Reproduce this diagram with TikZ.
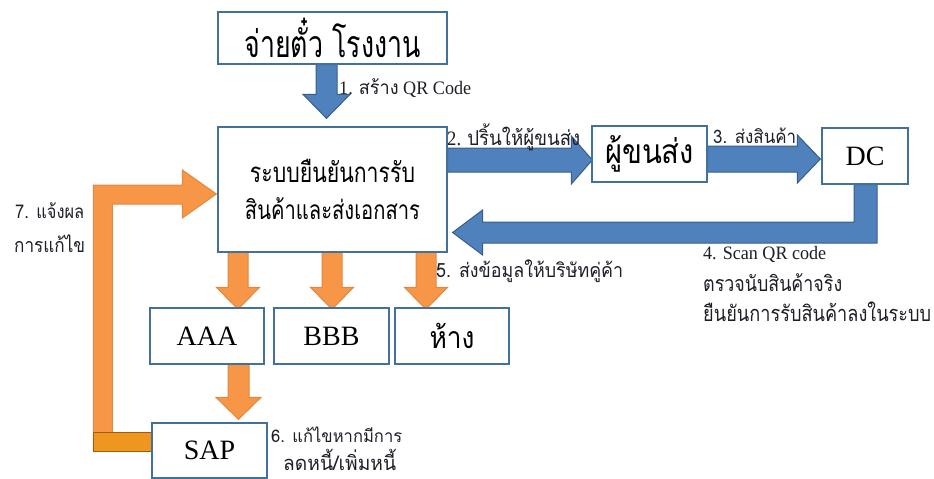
\documentclass[tikz,border=0pt]{standalone}
\usepackage{fontspec}
\usepackage{graphicx}
\setmainfont{Liberation Serif}
\newfontfamily\thai[Script=Thai]{Loma}
\usetikzlibrary{calc}
\definecolor{bluefill}{HTML}{4F81BD}
\definecolor{blueedge}{HTML}{385D8A}
\definecolor{boxedge}{HTML}{41719C}
\definecolor{orfill}{HTML}{F79646}
\definecolor{oredge}{HTML}{E0883F}
\definecolor{blkfill}{HTML}{EE961E}
\definecolor{blkedge}{HTML}{A65A10}
\definecolor{lbltext}{HTML}{1E1E28}
\pgfdeclarelayer{bg}
\pgfsetlayers{bg,main}
% fit text to a width, then stretch it vertically
\newcommand\fitw[3]{\scalebox{1}[#2]{\resizebox{#1}{!}{#3}}}
% down arrow: style, start, tip, head length, shaft half width, head half width
\newcommand\DArrow[6]{\draw[#1] ($(#2)+(-#5,0)$) -- ($(#2)+(#5,0)$) -- ($(#3)+(#5,-#4)$) -- ($(#3)+(#6,-#4)$) -- (#3) -- ($(#3)+(-#6,-#4)$) -- ($(#3)+(-#5,-#4)$) -- cycle;}
% right arrow
\newcommand\RArrow[6]{\draw[#1] ($(#2)+(0,-#5)$) -- ($(#3)+(-#4,-#5)$) -- ($(#3)+(-#4,-#6)$) -- (#3) -- ($(#3)+(-#4,#6)$) -- ($(#3)+(-#4,#5)$) -- ($(#2)+(0,#5)$) -- cycle;}
\begin{document}
\begin{tikzpicture}[x=1pt,y=-1pt,
  box/.style={draw=boxedge,line width=1.3pt,fill=white,inner sep=0pt,align=center},
  barrow/.style={fill=bluefill,draw=blueedge,line width=1pt},
  oarrow/.style={fill=orfill,draw=oredge,line width=1pt},
  blk/.style={fill=blkfill,draw=blkedge,line width=1pt},
  lbl/.style={anchor=west,inner sep=0pt,text=lbltext},
  big/.style={font=\fontsize{28}{32}\selectfont}]
\useasboundingbox (0,0) rectangle (934,479);
% boxes
\node[box,minimum width=229,minimum height=52] (top) at (332.5,38) {\fitw{176pt}{1.4}{\thai จ่ายตั๋ว โรงงาน}};
\node[box,minimum width=229,minimum height=125] (main) at (332.5,189.5) {\fitw{165pt}{1.3}{\thai ระบบยืนยันการรับ}\\[14pt]\fitw{175pt}{1.3}{\thai สินค้าและส่งเอกสาร}};
\node[box,minimum width=115,minimum height=56] (carrier) at (649.5,154) {\fitw{89pt}{1.15}{\thai ผู้ขนส่ง}};
\node[box,big,minimum width=86,minimum height=56] (dc) at (865,156) {DC};
\node[box,big,minimum width=114,minimum height=56] (aaa) at (207,336) {AAA};
\node[box,big,minimum width=115,minimum height=56] (bbb) at (331.5,336) {BBB};
\node[box,minimum width=114,minimum height=56] (hang) at (452,336) {\fitw{45pt}{1.15}{\thai ห้าง}};
\node[box,big,minimum width=115,minimum height=55] (sap) at (209.5,450.5) {SAP};
% labels
\node[lbl] (l1) at (339,88) {\fitw{132pt}{1.05}{1. {\thai สร้าง} QR Code}};
\node[lbl] (l2) at (447,137) {\fitw{133pt}{1.1}{2. {\thai ปริ้นให้ผู้ขนส่ง}}};
\node[lbl] (l3) at (713,136) {\fitw{83pt}{1.1}{\thai 3. ส่งสินค้า}};
\node[lbl] (l4a) at (703,254) {\fitw{123pt}{1.05}{4. Scan QR code}};
\node[lbl] (l4b) at (703,283) {\fitw{139pt}{1.2}{\thai ตรวจนับสินค้าจริง}};
\node[lbl] (l4c) at (703,312) {\fitw{228pt}{1.2}{\thai ยืนยันการรับสินค้าลงในระบบ}};
\node[lbl] (l5) at (436,271) {\fitw{187pt}{1.1}{\thai 5. ส่งข้อมูลให้บริษัทคู่ค้า}};
\node[lbl] (l6a) at (271,435) {\fitw{131pt}{1.05}{\thai 6. แก้ไขหากมีการ}};
\node[lbl] (l6b) at (283,460) {\fitw{113pt}{1.05}{\thai ลดหนี้/เพิ่มหนี้}};
\node[lbl] (l7a) at (15,211) {\fitw{69pt}{1.15}{\thai 7. แจ้งผล}};
\node[lbl] (l7b) at (14,244) {\fitw{71pt}{1.15}{\thai การแก้ไข}};
% connector anchor points
\coordinate (a1s) at ($(top.south)+(-6,0)$);
\coordinate (a1t) at ($(main.north)+(-6,-8)$);
\coordinate (a2t) at ($(carrier.west)+(1,6)$);
\coordinate (a2s) at (main.east |- a2t);
\coordinate (a3t) at ($(dc.west)+(-1,3)$);
\coordinate (a3s) at (carrier.east |- a3t);
\coordinate (a4s) at ($(dc.south)+(0.5,0)$);
\coordinate (a4t) at ($(main.east)+(5,43)$);
\coordinate (a5at) at ($(aaa.north)+(31,2)$);
\coordinate (a5as) at (a5at |- main.south);
\coordinate (a5bt) at ($(bbb.north)+(0.5,2)$);
\coordinate (a5bs) at (a5bt |- main.south);
\coordinate (a5ct) at ($(hang.north)+(-26,2)$);
\coordinate (a5cs) at (a5ct |- main.south);
\coordinate (a6t) at ($(sap.north)+(29,-3)$);
\coordinate (a6s) at (a6t |- aaa.south);
\coordinate (a7t) at ($(main.west)+(-1,4.5)$);
\coordinate (a7b) at (sap.west);
\begin{pgfonlayer}{bg}
\DArrow{barrow}{a1s}{a1t}{24}{10.5}{23.5}
\RArrow{barrow}{a2s}{a2t}{21}{12}{24}
\RArrow{barrow}{a3s}{a3t}{23}{13}{24}
\draw[barrow] ($(a4s)+(-11.5,0)$) -- ($(a4s)+(11.5,0)$) -- ($(a4s |- a4t)+(11.5,10.5)$) -- ($(a4t)+(30,10.5)$) -- ($(a4t)+(30,22.5)$) -- (a4t) -- ($(a4t)+(30,-22.5)$) -- ($(a4t)+(30,-10.5)$) -- ($(a4s |- a4t)+(-11.5,-10.5)$) -- cycle;
\DArrow{oarrow}{a5as}{a5at}{22}{10}{21.5}
\DArrow{oarrow}{a5bs}{a5bt}{22}{10}{21.5}
\DArrow{oarrow}{a5cs}{a5ct}{22}{10}{21.5}
\DArrow{oarrow}{a6s}{a6t}{22}{10.5}{22.5}
\draw[oarrow] ($(a7b)+(-58,0.5)$) -- ($(a7b |- a7t)+(-58,-9)$) -- ($(a7t)+(-34,-9)$) -- ($(a7t)+(-34,-24)$) -- (a7t) -- ($(a7t)+(-34,24)$) -- ($(a7t)+(-34,10)$) -- ($(a7b |- a7t)+(-39,10)$) -- ($(a7b)+(-39,0.5)$) -- cycle;
\draw[blk] ($(a7b)+(-58,-18.5)$) rectangle ($(a7b)+(0,0.5)$);
\end{pgfonlayer}
\end{tikzpicture}
\end{document}
